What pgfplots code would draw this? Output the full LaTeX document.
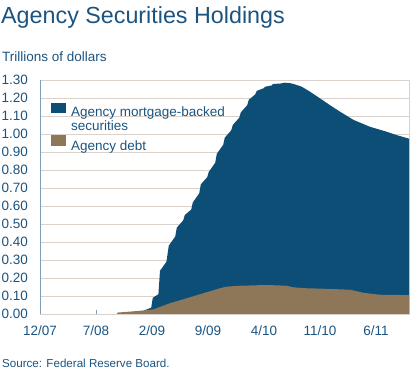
\documentclass[border=0pt]{standalone}
\usepackage{pgfplots}
\pgfplotsset{compat=1.18}
\usepackage{fontspec}
\setmainfont{Liberation Sans}
\definecolor{mbs}{RGB}{12,78,117}
\definecolor{debt}{RGB}{141,119,88}
\definecolor{txt}{RGB}{27,84,128}
\definecolor{gridc}{RGB}{218,210,202}
\definecolor{axc}{RGB}{130,158,182}
\begin{document}
\begin{tikzpicture}
\useasboundingbox (0,0) rectangle (415bp,372bp);
\node[anchor=base west, inner sep=0pt, text=txt, font=\fontsize{23.3bp}{28bp}\selectfont] at (1bp,348bp) {Agency Securities Holdings};
\node[anchor=base west, inner sep=0pt, text=txt, font=\fontsize{13.5bp}{16bp}\selectfont] at (2bp,310bp) {Trillions of dollars};
\node[anchor=base west, inner sep=0pt, text=txt, font=\fontsize{11.6bp}{14bp}\selectfont] at (2bp,5bp) {Source: Federal Reserve Board.};
\begin{axis}[
  at={(40bp,58bp)}, anchor=south west,
  scale only axis, width=369bp, height=234bp,
  xmin=0, xmax=46.125, ymin=0, ymax=1.3,
  xtick={0,7,14,21,28,35,42},
  xticklabels={12/07,7/08,2/09,9/09,4/10,11/10,6/11},
  ytick={0,0.1,...,1.31},
  /pgf/number format/fixed, /pgf/number format/fixed zerofill, /pgf/number format/precision=2,
  /pgf/number format/assume math mode=true,
  tick label style={text=txt, font=\fontsize{13.5bp}{16bp}\selectfont, inner sep=0pt},
  yticklabel style={xshift=-12bp},
  xticklabel style={yshift=-12bp},
  xtick pos=bottom, ytick pos=left, tick align=inside,
  major tick length=4bp,
  xtick style={draw=axc, line width=0.8bp},
  ytick style={draw=none},
  ymajorgrids, grid style={draw=gridc, line width=0.8bp},
  axis line style={draw=gridc, line width=0.8bp},
  legend cell align=left,
  legend style={at={(rel axis cs:0.029,0.903)}, anchor=north west, draw=none, fill=none,
    inner sep=0pt, outer sep=0pt, row sep=1.6bp, column sep=5.3bp,
    font=\fontsize{13.5bp}{16bp}\selectfont, text=txt,
    nodes={inner sep=0pt, outer sep=0pt, text height=10bp, text depth=3bp}},
  legend image code/.code={\fill[#1,draw=none] (0bp,-0.6bp) rectangle (15bp,10bp);},
]
\addplot[fill=mbs, draw=none] coordinates {
(13.0,0.02)(13.9,0.035)(14.1,0.09)(14.8,0.11)(15.0,0.24)(15.8,0.29)(16.1,0.38)(16.9,0.43)
(17.1,0.48)(17.9,0.52)(18.1,0.55)(18.9,0.58)(19.1,0.62)(19.9,0.67)(20.1,0.72)(20.9,0.76)
(21.1,0.79)(21.9,0.84)(22.1,0.89)(22.9,0.94)(23.1,0.98)(23.9,1.02)(24.1,1.05)(24.9,1.09)
(25.1,1.12)(25.9,1.16)(26.1,1.19)(26.9,1.22)(27.1,1.24)(28.0,1.255)(28.1,1.262)
(29.0,1.27)(29.1,1.278)(30.0,1.28)(30.6,1.285)(31.2,1.283)(31.7,1.278)(32.7,1.263)
(33.75,1.235)(35,1.198)(36.25,1.16)(37.5,1.124)(39.2,1.078)(41.25,1.04)(43.3,1.013)
(44.5,0.995)(46.125,0.974)
} \closedcycle;
\addlegendentry{Agency mortgage-backed}
\addlegendimage{empty legend}
\addlegendentry{securities}
\addplot[fill=debt, draw=none] coordinates {
(9.6,0)(9.7,0.008)(12.3,0.017)(14.2,0.026)(16.25,0.06)(18.3,0.087)(20.4,0.115)(22.5,0.143)
(23.3,0.152)(25.0,0.157)(26.7,0.159)(27.9,0.161)(29.0,0.160)(30.8,0.157)(31.7,0.148)
(33.3,0.143)(35,0.141)(38.75,0.135)(40.4,0.118)(41.7,0.111)(42.5,0.107)(46.125,0.105)
} \closedcycle;
\addlegendentry[text height=12.4bp]{Agency debt}
\draw[axc, line width=0.8bp] (rel axis cs:0,1) -- (rel axis cs:0,0) -- (rel axis cs:1,0);
\end{axis}
\end{tikzpicture}
\end{document}
